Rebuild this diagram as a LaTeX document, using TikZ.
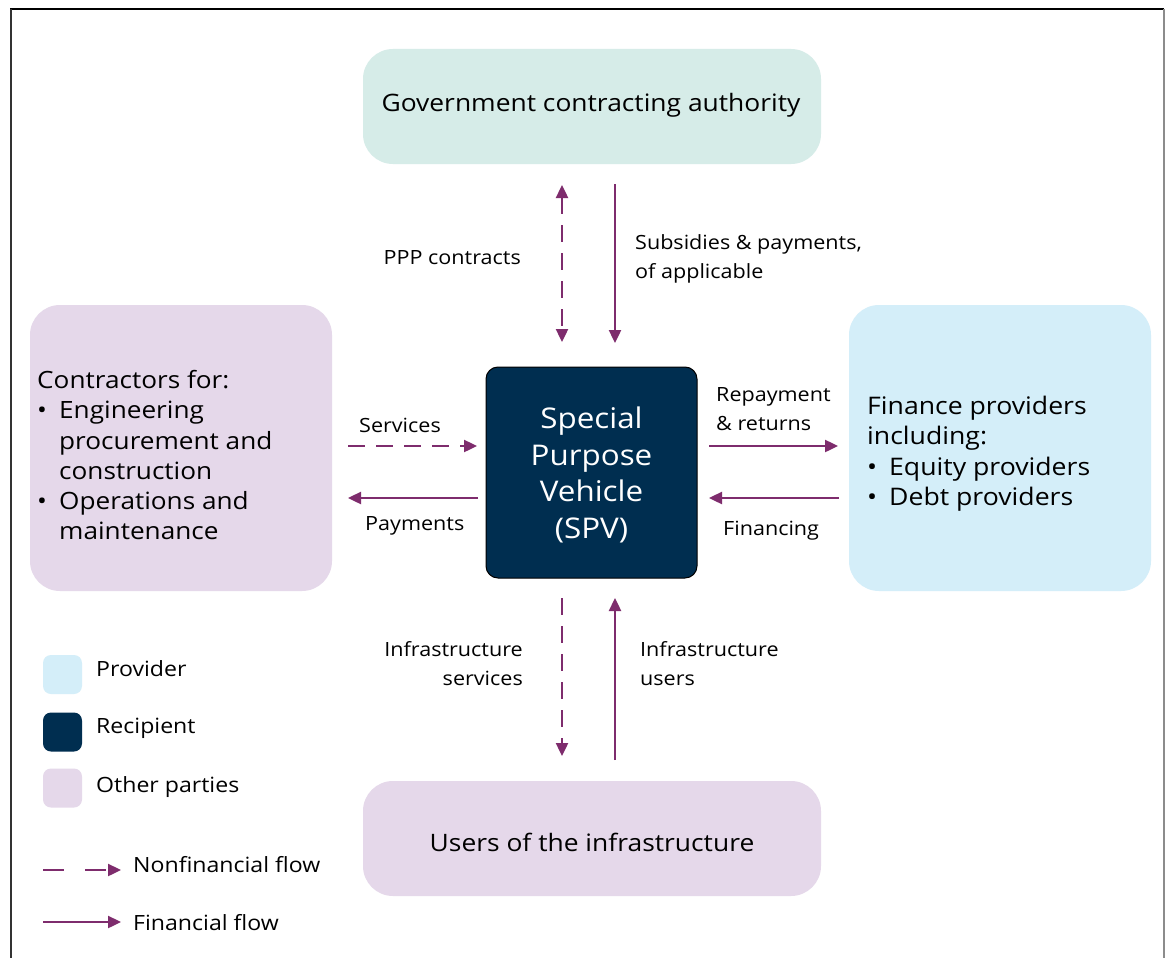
\documentclass[tikz,border=0pt]{standalone}
\usepackage{fontspec}
\setmainfont{Open Sans}[FakeStretch=1.1]
\usetikzlibrary{arrows.meta}
\definecolor{govc}{HTML}{D6ECE8}
\definecolor{otherc}{HTML}{E5D8EA}
\definecolor{provc}{HTML}{D4EEF9}
\definecolor{spvc}{HTML}{002E50}
\definecolor{flowc}{HTML}{7E2C6D}
\newcommand{\bul}{\makebox[22pt][l]{\textbullet}}
\newcommand{\ind}{\hspace*{22pt}}
\tikzset{
  party/.style={rounded corners=30pt, inner sep=0pt, draw=none},
  flow/.style={draw=flowc, line width=2.4pt, -{Triangle[length=13pt,width=12pt]}},
  nonfin/.style={flow, dash pattern=on 17pt off 11pt},
  lbl/.style={font=\fontsize{19.6}{29}\selectfont, inner sep=0pt, align=left},
  swatch/.style={rounded corners=8pt, minimum width=39pt, minimum height=39pt, inner sep=0pt},
  leg/.style={anchor=west, inner sep=0pt, font=\fontsize{21}{25}\selectfont},
}
\begin{document}
\begin{tikzpicture}[x=1pt,y=-1pt]
\useasboundingbox (0,0) rectangle (1165,958);
\fill[white] (0,0) rectangle (1165,958);
% frame
\draw[line width=2pt, black] (10,9) -- (1164,9);
\draw[line width=1.5pt, black!80] (11,9) -- (11,958);
\draw[line width=1.5pt, black!45] (1164,9) -- (1164,958);

% boxes
\node[party, fill=govc, minimum width=458pt, minimum height=115pt] (gov) at (592,106.5) {};
\node[font=\fontsize{24}{30}\selectfont] (govt) at (591,105) {Government contracting authority};
\node[party, fill=otherc, minimum width=302pt, minimum height=286pt] (con) at (181,448) {};
\node[party, fill=provc, minimum width=302pt, minimum height=286pt] (fin) at (1000,448) {};
\node[party, fill=otherc, minimum width=458pt, minimum height=115pt] (usr) at (592,838.5) {};
\node[font=\fontsize{24}{30}\selectfont] (usrt) at (592,842) {Users of the infrastructure};
\node[draw=black, line width=1pt, fill=spvc, rounded corners=12pt, minimum width=211pt, minimum height=211pt, inner sep=0pt] (spv) at (591.5,472.5) {};
\node[text=white, align=center, font=\fontsize{28.5}{36.7}\selectfont] (spvt) at (591.5,475) {Special\\Purpose\\Vehicle\\(SPV)};

% texts in side boxes
\node[anchor=north west, inner sep=0pt, align=left, font=\fontsize{23.8}{30.3}\selectfont] (cont) at (37,370)
{Contractors for:\\
\bul Engineering\\
\ind procurement and\\
\ind construction\\
\bul Operations and\\
\ind maintenance};
\node[anchor=north west, inner sep=0pt, align=left, font=\fontsize{24.2}{30.3}\selectfont] (fint) at (867,396)
{Finance providers\\
including:\\
\bul Equity providers\\
\bul Debt providers};

% coordinates for arrows
\coordinate (ppA) at (562,185);
\coordinate (ppB) at (562,342);
\coordinate (suA) at (615,184);
\coordinate (suB) at (615,343);
\coordinate (svA) at (348,446);
\coordinate (svB) at (477,446);
\coordinate (pyA) at (478,498);
\coordinate (pyB) at (348,498);
\coordinate (rpA) at (709,446);
\coordinate (rpB) at (838,446);
\coordinate (fnA) at (839,498);
\coordinate (fnB) at (709,498);
\coordinate (isA) at (562,598);
\coordinate (isB) at (562,756);
\coordinate (iuA) at (615,760);
\coordinate (iuB) at (615,598);

\draw[nonfin, {Triangle[length=13pt,width=12pt]}-{Triangle[length=13pt,width=12pt]}] (ppA) -- (ppB);
\draw[flow] (suA) -- (suB);
\draw[nonfin] (svA) -- (svB);
\draw[flow] (pyA) -- (pyB);
\draw[flow] (rpA) -- (rpB);
\draw[flow] (fnA) -- (fnB);
\draw[nonfin] (isA) -- (isB);
\draw[flow] (iuA) -- (iuB);

% labels
\node[lbl, anchor=east] (l1) at (521,258) {PPP contracts};
\node[lbl, anchor=west, text depth=0pt] (l2) at (635,257) {Subsidies \& payments,\\of applicable};
\node[lbl, anchor=west] (l3) at (359,425) {Services};
\node[lbl, anchor=west] (l4) at (365,526) {Payments};
\node[lbl, anchor=west] (l5) at (716,409) {Repayment\\\& returns};
\node[lbl, anchor=west] (l6) at (723,531) {Financing};
\node[lbl, anchor=east, align=right] (l7) at (523,664) {Infrastructure\\services};
\node[lbl, anchor=west] (l8) at (640,664) {Infrastructure\\users};

% legend
\node[swatch, fill=provc] (sw1) at (62.5,674.5) {};
\node[swatch, fill=spvc] (sw2) at (62.5,732) {};
\node[swatch, fill=otherc] (sw3) at (62.5,788) {};
\node[leg] (t1) at (96,669) {Provider};
\node[leg] (t2) at (96,728) {Recipient};
\node[leg] (t3) at (96,787) {Other parties};
\coordinate (lgA) at (43,870);
\coordinate (lgB) at (121,870);
\coordinate (lgC) at (43,922);
\coordinate (lgD) at (121,922);
\draw[flow, dash pattern=on 21pt off 21pt] (lgA) -- (lgB);
\draw[flow] (lgC) -- (lgD);
\node[leg] (t4) at (133,865) {Nonfinancial flow};
\node[leg] (t5) at (133,923) {Financial flow};
\end{tikzpicture}
\end{document}
